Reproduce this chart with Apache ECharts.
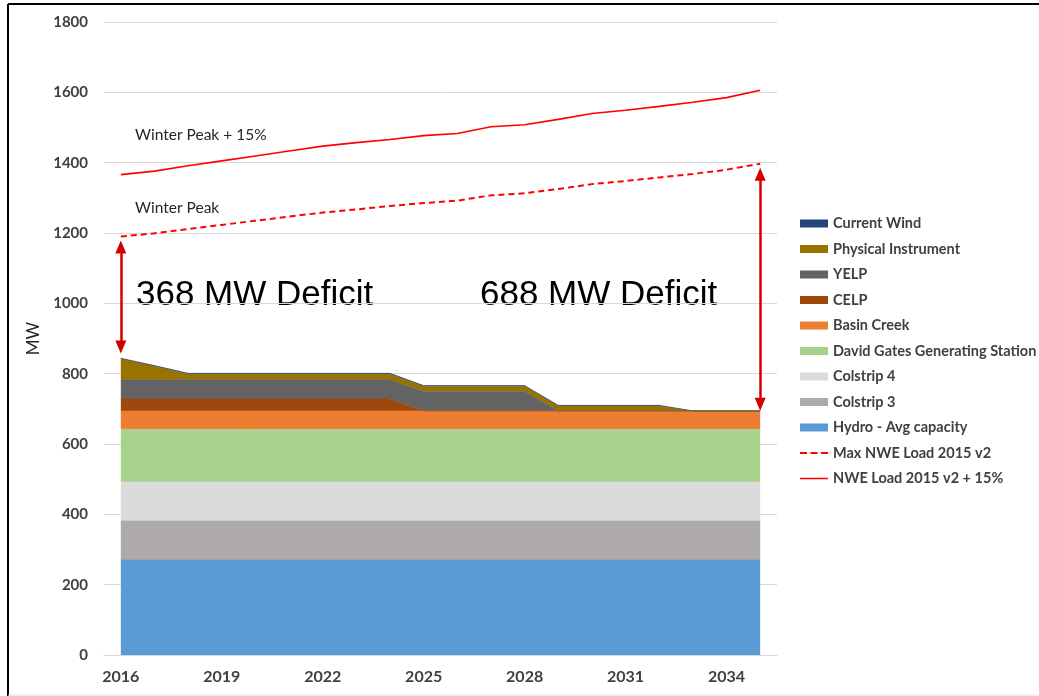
<!DOCTYPE html>
<html>
<head>
<meta charset="utf-8">
<script src="https://cdn.jsdelivr.net/npm/echarts@6/dist/echarts.min.js"></script>
<style>
html,body{margin:0;padding:0;background:#fff;}
#chart{width:1039px;height:696px;}
</style>
</head>
<body>
<div id="chart"></div>
<script>
var years = ['2016','2017','2018','2019','2020','2021','2022','2023','2024','2025','2026','2027','2028','2029','2030','2031','2032','2033','2034','2035'];
var yTicks = [0,200,400,600,800,1000,1200,1400,1600,1800];

var hydro      = [270,270,270,270,270,270,270,270,270,270,270,270,270,270,270,270,270,270,270,270];
var colstrip3  = [111,111,111,111,111,111,111,111,111,111,111,111,111,111,111,111,111,111,111,111];
var colstrip4  = [111,111,111,111,111,111,111,111,111,111,111,111,111,111,111,111,111,111,111,111];
var davidGates = [150,150,150,150,150,150,150,150,150,150,150,150,150,150,150,150,150,150,150,150];
var basinCreek = [52,52,52,52,52,52,52,52,52,52,52,52,52,52,52,52,52,52,52,52];
var celp       = [34,34,34,34,34,34,34,34,34,0,0,0,0,0,0,0,0,0,0,0];
var yelp       = [55,55,55,55,55,55,55,55,55,55,55,55,55,0,0,0,0,0,0,0];
var physical   = [59,38,16,16,16,16,16,16,16,15,15,15,15,14,14,14,14,0,0,0];
var wind       = [2,2,2,2,2,2,2,2,2,2,2,2,2,2,2,2,2,0,0,0];

var maxLoad    = [1190,1199,1211,1223,1235,1247,1258,1267,1277,1285,1292,1307,1313,1325,1339,1348,1358,1368,1380,1397];
var load15     = [1366,1376,1391,1405,1419,1433,1447,1457,1466,1477,1483,1502,1508,1523,1540,1549,1560,1572,1585,1606];

var deficitArrows = [
  {year:'2016', from:1160, to:876},
  {year:'2035', from:1367, to:713}
];

var FONT = 'Lato, "Open Sans", sans-serif';

function area(name, data, color) {
  return {
    name: name, type: 'line', stack: 'cap', data: data,
    symbol: 'none', showSymbol: false,
    lineStyle: {width: 0.6, color: color},
    areaStyle: {color: color, opacity: 1},
    itemStyle: {color: color},
    emphasis: {disabled: true}
  };
}

var chart = echarts.init(document.getElementById('chart'), null, {renderer: 'canvas'});

var series = [
  area('Hydro - Avg capacity', hydro, '#5B9BD5'),
  area('Colstrip 3', colstrip3, '#AEAAAA'),
  area('Colstrip 4', colstrip4, '#DBDBDB'),
  area('David Gates Generating Station', davidGates, '#A9D18E'),
  area('Basin Creek', basinCreek, '#ED7D31'),
  area('CELP', celp, '#9E480E'),
  area('YELP', yelp, '#636363'),
  area('Physical Instrument', physical, '#997300'),
  area('Current Wind', wind, '#264478'),
  {
    name: 'Max NWE Load 2015 v2', type: 'line', data: maxLoad,
    symbol: 'none', showSymbol: false,
    lineStyle: {color: '#FF0000', width: 2, type: [6, 4]},
    itemStyle: {color: '#FF0000'},
    markLine: {
      silent: true,
      symbol: ['triangle', 'triangle'],
      symbolSize: [11, 13],
      label: {show: false},
      lineStyle: {color: '#D00000', width: 2.5, type: 'solid'},
      data: deficitArrows.map(function (a) {
        return [{coord: [a.year, a.from]}, {coord: [a.year, a.to]}];
      })
    }
  },
  {
    name: 'NWE Load 2015 v2 + 15%', type: 'line', data: load15,
    symbol: 'none', showSymbol: false,
    lineStyle: {color: '#FF0000', width: 1.6},
    itemStyle: {color: '#FF0000'}
  }
];

var legendOrder = ['Current Wind','Physical Instrument','YELP','CELP','Basin Creek','David Gates Generating Station','Colstrip 4','Colstrip 3','Hydro - Avg capacity'];
var legendData = legendOrder.map(function (n) { return {name: n, icon: 'rect'}; });
var corners = 'M0,0h0.01v0.01h-0.01z M27.99,7.99h0.01v0.01h-0.01z ';
legendData.push({name: 'Max NWE Load 2015 v2', icon: 'path://' + corners + 'M0,3h7v2h-7z M10.5,3h7v2h-7z M21,3h7v2h-7z', itemStyle: {color: '#FF0000'}});
legendData.push({name: 'NWE Load 2015 v2 + 15%', icon: 'path://' + corners + 'M0,3.2h28v1.6h-28z', itemStyle: {color: '#FF0000'}});

chart.setOption({
  animation: false,
  backgroundColor: '#fff',
  grid: {left: 104, right: 262, top: 22, bottom: 41, containLabel: false},
  xAxis: {
    type: 'category', data: years, boundaryGap: true,
    axisLine: {show: true, lineStyle: {color: '#D9D9D9', width: 1}},
    axisTick: {show: false},
    axisLabel: {interval: 2, color: '#404040', fontFamily: FONT, fontWeight: 'bold', fontSize: 16, margin: 14}
  },
  yAxis: {
    type: 'value', min: yTicks[0], max: yTicks[yTicks.length - 1], interval: 200,
    name: 'MW', nameLocation: 'middle', nameGap: 58, nameRotate: 90,
    nameTextStyle: {color: '#262626', fontFamily: FONT, fontSize: 17},
    axisLine: {show: false}, axisTick: {show: false},
    axisLabel: {color: '#404040', fontFamily: FONT, fontWeight: 'bold', fontSize: 15, margin: 16,
      formatter: function (v) { return String(v); }},
    splitLine: {lineStyle: {color: '#D9D9D9', width: 1}}
  },
  legend: {
    orient: 'vertical', left: 795, top: 211,
    itemWidth: 28, itemHeight: 8, itemGap: 10.5,
    data: legendData,
    textStyle: {color: '#404040', fontFamily: FONT, fontWeight: 'bold', fontSize: 14.5},
    selectedMode: false
  },
  series: series,
  graphic: [
    {type: 'line', shape: {x1: 8, y1: 4, x2: 1039, y2: 4}, style: {stroke: '#000', lineWidth: 2}, silent: true},
    {type: 'line', shape: {x1: 8, y1: 4, x2: 8, y2: 696}, style: {stroke: '#000', lineWidth: 2}, silent: true},
    {type: 'line', shape: {x1: 8, y1: 695, x2: 1039, y2: 695}, style: {stroke: '#E0E0E0', lineWidth: 1}, silent: true},
    {type: 'text', left: 135, top: 127, style: {text: 'Winter Peak + 15%', fill: '#262626', font: '15.5px ' + FONT}, silent: true},
    {type: 'text', left: 135, top: 200, style: {text: 'Winter Peak', fill: '#262626', font: '15.5px ' + FONT}, silent: true},
    {type: 'text', left: 136, top: 278, style: {text: '368 MW Deficit', fill: '#000', font: '35px "Liberation Sans", Arial, sans-serif'}, silent: true},
    {type: 'text', left: 480, top: 278, style: {text: '688 MW Deficit', fill: '#000', font: '35px "Liberation Sans", Arial, sans-serif'}, silent: true}
  ]
});
</script>
</body>
</html>
